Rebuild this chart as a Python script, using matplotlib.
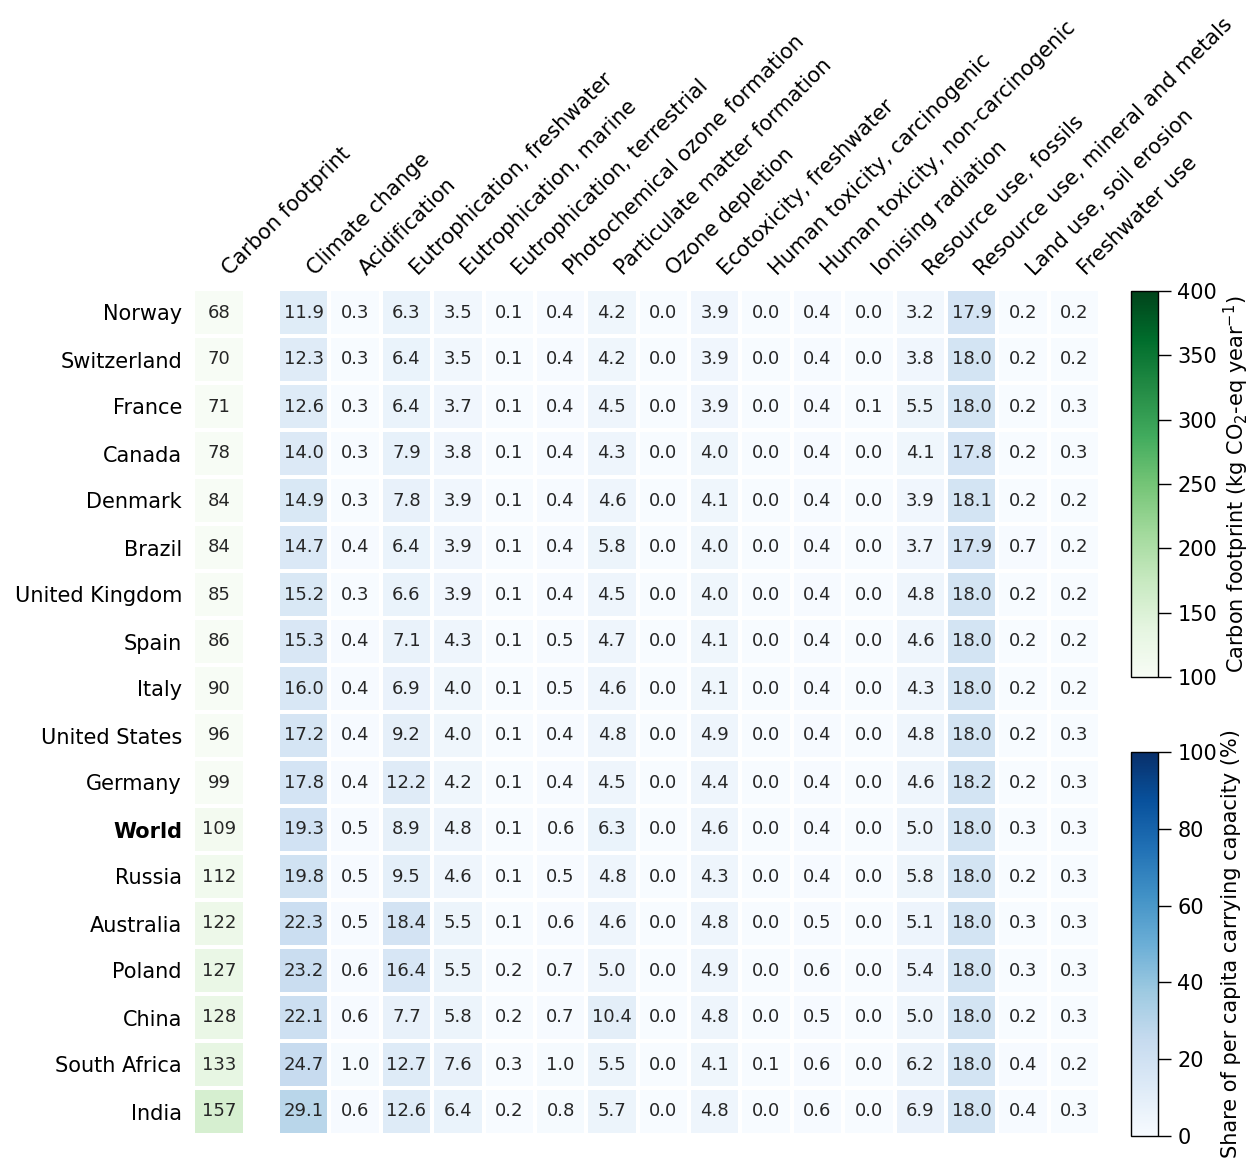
import numpy as np
import matplotlib
matplotlib.use("Agg")
import matplotlib.pyplot as plt
from matplotlib.colors import Normalize

##### DATA #####
countries = ["Norway", "Switzerland", "France", "Canada", "Denmark", "Brazil",
             "United Kingdom", "Spain", "Italy", "United States", "Germany",
             "World", "Russia", "Australia", "Poland", "China", "South Africa", "India"]

# kg CO2-eq per person per year
carbon_footprint = [68, 70, 71, 78, 84, 84, 85, 86, 90, 96, 99, 109, 112, 122, 127, 128, 133, 157]

# share of per capita carrying capacity (%), one list per impact category
climate_change = [11.9, 12.3, 12.6, 14.0, 14.9, 14.7, 15.2, 15.3, 16.0, 17.2, 17.8, 19.3, 19.8, 22.3, 23.2, 22.1, 24.7, 29.1]
acidification = [0.3, 0.3, 0.3, 0.3, 0.3, 0.4, 0.3, 0.4, 0.4, 0.4, 0.4, 0.5, 0.5, 0.5, 0.6, 0.6, 1.0, 0.6]
eutro_freshwater = [6.3, 6.4, 6.4, 7.9, 7.8, 6.4, 6.6, 7.1, 6.9, 9.2, 12.2, 8.9, 9.5, 18.4, 16.4, 7.7, 12.7, 12.6]
eutro_marine = [3.5, 3.5, 3.7, 3.8, 3.9, 3.9, 3.9, 4.3, 4.0, 4.0, 4.2, 4.8, 4.6, 5.5, 5.5, 5.8, 7.6, 6.4]
eutro_terrestrial = [0.1, 0.1, 0.1, 0.1, 0.1, 0.1, 0.1, 0.1, 0.1, 0.1, 0.1, 0.1, 0.1, 0.1, 0.2, 0.2, 0.3, 0.2]
photochem_ozone = [0.4, 0.4, 0.4, 0.4, 0.4, 0.4, 0.4, 0.5, 0.5, 0.4, 0.4, 0.6, 0.5, 0.6, 0.7, 0.7, 1.0, 0.8]
particulate_matter = [4.2, 4.2, 4.5, 4.3, 4.6, 5.8, 4.5, 4.7, 4.6, 4.8, 4.5, 6.3, 4.8, 4.6, 5.0, 10.4, 5.5, 5.7]
ozone_depletion = [0.0] * 18
ecotox_freshwater = [3.9, 3.9, 3.9, 4.0, 4.1, 4.0, 4.0, 4.1, 4.1, 4.9, 4.4, 4.6, 4.3, 4.8, 4.9, 4.8, 4.1, 4.8]
human_tox_carc = [0.0, 0.0, 0.0, 0.0, 0.0, 0.0, 0.0, 0.0, 0.0, 0.0, 0.0, 0.0, 0.0, 0.0, 0.0, 0.0, 0.1, 0.0]
human_tox_noncarc = [0.4, 0.4, 0.4, 0.4, 0.4, 0.4, 0.4, 0.4, 0.4, 0.4, 0.4, 0.4, 0.4, 0.5, 0.6, 0.5, 0.6, 0.6]
ionising_radiation = [0.0, 0.0, 0.1, 0.0, 0.0, 0.0, 0.0, 0.0, 0.0, 0.0, 0.0, 0.0, 0.0, 0.0, 0.0, 0.0, 0.0, 0.0]
resource_fossils = [3.2, 3.8, 5.5, 4.1, 3.9, 3.7, 4.8, 4.6, 4.3, 4.8, 4.6, 5.0, 5.8, 5.1, 5.4, 5.0, 6.2, 6.9]
resource_minerals = [17.9, 18.0, 18.0, 17.8, 18.1, 17.9, 18.0, 18.0, 18.0, 18.0, 18.2, 18.0, 18.0, 18.0, 18.0, 18.0, 18.0, 18.0]
land_use = [0.2, 0.2, 0.2, 0.2, 0.2, 0.7, 0.2, 0.2, 0.2, 0.2, 0.2, 0.3, 0.2, 0.3, 0.3, 0.2, 0.4, 0.4]
freshwater_use = [0.2, 0.2, 0.3, 0.3, 0.2, 0.2, 0.2, 0.2, 0.2, 0.3, 0.3, 0.3, 0.3, 0.3, 0.3, 0.3, 0.2, 0.3]

impact_labels = ["Climate change", "Acidification", "Eutrophication, freshwater",
                 "Eutrophication, marine", "Eutrophication, terrestrial",
                 "Photochemical ozone formation", "Particulate matter formation",
                 "Ozone depletion", "Ecotoxicity, freshwater", "Human toxicity, carcinogenic",
                 "Human toxicity, non-carcinogenic", "Ionising radiation",
                 "Resource use, fossils", "Resource use, mineral and metals",
                 "Land use, soil erosion", "Freshwater use"]

impacts = np.column_stack([climate_change, acidification, eutro_freshwater, eutro_marine,
                           eutro_terrestrial, photochem_ozone, particulate_matter,
                           ozone_depletion, ecotox_freshwater, human_tox_carc,
                           human_tox_noncarc, ionising_radiation, resource_fossils,
                           resource_minerals, land_use, freshwater_use])
carbon = np.array(carbon_footprint, dtype=float).reshape(-1, 1)

##### FIGURE #####
W, H = 1251, 1160
fig = plt.figure(figsize=(W / 100, H / 100), dpi=100)

def px_axes(x0, y0, x1, y1):
    # axes from pixel box (top-left origin)
    return fig.add_axes([x0 / W, 1 - y1 / H, (x1 - x0) / W, (y1 - y0) / H])

ax_c = px_axes(193, 289, 245, 1135)
ax_i = px_axes(278, 289, 1100, 1135)
cax_c = px_axes(1131, 291, 1158, 677)
cax_i = px_axes(1131, 752, 1158, 1136)

norm_c = Normalize(vmin=100, vmax=400)
norm_i = Normalize(vmin=0, vmax=100)

mesh_c = ax_c.pcolormesh(carbon, cmap="Greens", norm=norm_c, edgecolors="white", linewidth=1.5)
mesh_i = ax_i.pcolormesh(impacts, cmap="Blues", norm=norm_i, edgecolors="white", linewidth=1.5)

text_color = "#262626"
for r in range(len(countries)):
    ax_c.text(0.5, r + 0.5, f"{carbon_footprint[r]:.0f}", ha="center", va="center",
              fontsize=13, color=text_color)
    for c in range(impacts.shape[1]):
        ax_i.text(c + 0.5, r + 0.5, f"{impacts[r, c]:.1f}", ha="center", va="center",
                  fontsize=13, color=text_color)

for ax, labels in [(ax_c, ["Carbon footprint"]), (ax_i, impact_labels)]:
    ax.invert_yaxis()
    ax.xaxis.tick_top()
    ax.set_xticks(np.arange(len(labels)) + 0.5)
    ax.set_xticklabels(labels, rotation=45, ha="left", fontsize=15)
    ax.tick_params(axis="both", length=0, pad=7)
    for s in ax.spines.values():
        s.set_visible(False)

ax_c.set_yticks(np.arange(len(countries)) + 0.5)
ax_c.set_yticklabels(countries, fontsize=15)
ax_c.tick_params(axis="y", pad=8)
for lab in ax_c.get_yticklabels():
    if lab.get_text() == "World":
        lab.set_fontweight("bold")
ax_i.set_yticks([])

cb_c = fig.colorbar(mesh_c, cax=cax_c, ticks=[100, 150, 200, 250, 300, 350, 400])
cb_c.set_label("Carbon footprint (kg CO$_2$-eq year$^{-1}$)", fontsize=15, labelpad=3)
cb_i = fig.colorbar(mesh_i, cax=cax_i, ticks=[0, 20, 40, 60, 80, 100])
cb_i.set_label("Share of per capita carrying capacity (%)", fontsize=15, labelpad=3)
for cb in (cb_c, cb_i):
    cb.ax.tick_params(labelsize=15, length=9, width=1, pad=5)
    cb.outline.set_linewidth(1)

fig.savefig("out.png", dpi=100)
